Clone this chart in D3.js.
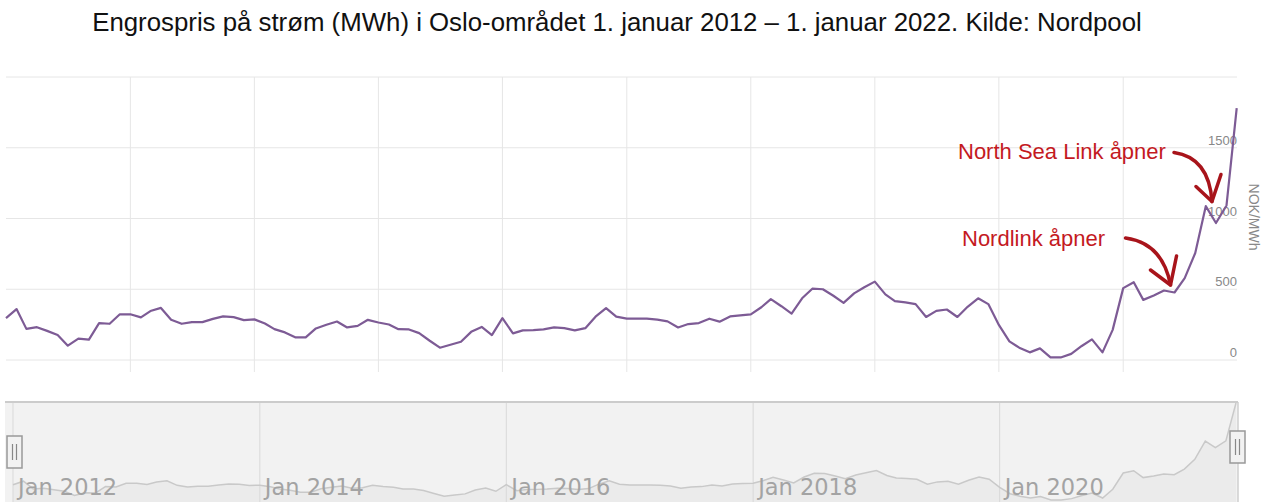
<!DOCTYPE html>
<html><head><meta charset="utf-8">
<script src="https://cdn.jsdelivr.net/npm/d3@7"></script>
<style>html,body{margin:0;padding:0;background:#fff;} svg{display:block;}</style>
</head><body><svg id="c" width="1267" height="502"></svg>
<script>
// ---- data ----
const title = "Engrospris på strøm (MWh) i Oslo-området 1. januar 2012 – 1. januar 2022. Kilde: Nordpool";
const years = [2012,2013,2014,2015,2016,2017,2018,2019,2020,2021];
const prices = [
  296,360,220,232,206,177,101,151,144,261,256,323,
  323,301,346,368,284,256,268,268,291,308,303,282,
  287,258,218,195,160,160,223,249,272,230,241,284,
  265,251,218,216,190,136,87,108,129,199,234,176,
  296,188,209,211,216,230,225,209,225,306,367,306,
  292,292,292,285,273,230,254,261,292,271,308,316,
  323,373,430,380,328,436,504,500,454,404,471,514,
  554,464,416,407,395,304,347,357,304,376,436,395,
  248,132,87,54,82,18,18,43,99,146,54,213,
  508,550,425,456,491,477,579,756,1087,968,1092,1780
];
const yGridTicks = [0,500,1000,1500,2000];
const yLabelTicks = [0,500,1000,1500];
const yAxisTitle = "NOK/MWh";
const navLabelYears = [2012,2014,2016,2018,2020];
const annotations = [
  {text:"North Sea Link åpner", year:2021, month:9, value:1120},
  {text:"Nordlink åpner", year:2021, month:5, value:530}
];

// ---- build ----
const data = [];
years.forEach((yr, yi) => { for (let m = 0; m < 12; m++) data.push({date: new Date(yr, m, 1), value: prices[yi*12+m]}); });

const svg = d3.select("#c");

// main scales
const x = d3.scaleTime().domain([data[0].date, data[data.length-1].date]).range([6, 1236.7]);
const y = d3.scaleLinear().domain([0, 2000]).range([360, 77]);

// title
svg.append("text").attr("x", 617).attr("y", 31).attr("text-anchor", "middle")
  .style("font-family", "'Liberation Sans', Arial, Helvetica, sans-serif").style("font-size", "25.8px").attr("fill", "#111")
  .text(title);

// horizontal gridlines
svg.append("g").selectAll("line").data(yGridTicks).join("line")
  .attr("x1", 6).attr("x2", 1237).attr("y1", d => y(d)).attr("y2", d => y(d))
  .attr("stroke", "#e6e6e6").attr("stroke-width", 1);

// vertical gridlines (yearly) with ticks below
const yearTicks = d3.timeYear.range(new Date(2013,0,1), new Date(2021,1,1));
svg.append("g").selectAll("line").data(yearTicks).join("line")
  .attr("x1", d => x(d)).attr("x2", d => x(d)).attr("y1", 77).attr("y2", 372)
  .attr("stroke", "#e6e6e6").attr("stroke-width", 1);

// y labels (right, inside)
svg.append("g").selectAll("text").data(yLabelTicks).join("text")
  .attr("x", 1237).attr("y", d => y(d) - 3).attr("text-anchor", "end")
  .style("font-family", "'Liberation Sans', Arial, sans-serif").style("font-size", "13px").attr("fill", "#888")
  .text(d => d);

svg.append("text").attr("transform", "translate(1249,217) rotate(90)").attr("text-anchor", "middle")
  .style("font-family", "'Liberation Sans', Arial, sans-serif").style("font-size", "14px").attr("fill", "#888")
  .text(yAxisTitle);

// main line
const line = d3.line().x(d => x(d.date)).y(d => y(d.value));
svg.append("path").datum(data).attr("d", line).attr("fill", "none")
  .attr("stroke", "#7d5b95").attr("stroke-width", 2.2).attr("stroke-linejoin", "round");

// annotations
const arrowShapes = [
  {start:[-38,-49], ctrl:[-3,-44], barbL:[-16,-15], barbR:[9,-27], tx:958, ty:159},
  {start:[-45,-47], ctrl:[-8,-42], barbL:[-20,-15], barbR:[6,-29], tx:962, ty:246}
];
annotations.forEach((a, i) => {
  const s = arrowShapes[i];
  const tipX = x(new Date(a.year, a.month, 1)) - 4, tipY = y(a.value);
  const g = svg.append("g");
  const p = d3.path();
  p.moveTo(tipX + s.start[0], tipY + s.start[1]);
  p.quadraticCurveTo(tipX + s.ctrl[0], tipY + s.ctrl[1], tipX, tipY);
  g.append("path").attr("d", p.toString()).attr("fill", "none").attr("stroke", "#a8141b")
    .attr("stroke-width", 3.5).attr("stroke-linecap", "round");
  const h = d3.path();
  h.moveTo(tipX + s.barbL[0], tipY + s.barbL[1]); h.lineTo(tipX, tipY); h.lineTo(tipX + s.barbR[0], tipY + s.barbR[1]);
  g.append("path").attr("d", h.toString()).attr("fill", "none").attr("stroke", "#a8141b")
    .attr("stroke-width", 3.5).attr("stroke-linecap", "round").attr("stroke-linejoin", "round");
  svg.append("text").attr("x", s.tx).attr("y", s.ty)
    .style("font-family", "'Liberation Sans', Arial, sans-serif").style("font-size", "22px").attr("fill", "#c41a1f")
    .text(a.text);
});

// ---- navigator ----
const nx = d3.scaleTime().domain([data[0].date, data[data.length-1].date]).range([13, 1236]);
const ny = d3.scaleLinear().domain(d3.extent(data, d => d.value)).range([500, 403]);
const nav = svg.append("g");
nav.append("rect").attr("x", 5).attr("y", 402).attr("width", 1233).attr("height", 100).attr("fill", "#f2f2f2");
nav.append("path").datum(data).attr("d", d3.area().x(d => nx(d.date)).y0(502).y1(d => ny(d.value)))
  .attr("fill", "#ebebeb");
const navGrid = navLabelYears.map(yr => new Date(yr, 0, 1));
nav.selectAll("line.g").data(navGrid).join("line").attr("class", "g")
  .attr("x1", d => nx(d)).attr("x2", d => nx(d)).attr("y1", 402).attr("y2", 502)
  .attr("stroke", "#d9d9d9").attr("stroke-width", 1);
nav.append("line").attr("x1", 1238).attr("x2", 1238).attr("y1", 402).attr("y2", 502).attr("stroke", "#cfcfcf").attr("stroke-width", 1.5);
nav.append("path").datum(data).attr("d", d3.line().x(d => nx(d.date)).y(d => ny(d.value)))
  .attr("fill", "none").attr("stroke", "#c9c9c9").attr("stroke-width", 1.5);
nav.append("line").attr("x1", 5).attr("x2", 1238).attr("y1", 402).attr("y2", 402).attr("stroke", "#cccccc").attr("stroke-width", 2);
nav.selectAll("text").data(navGrid).join("text")
  .attr("x", d => nx(d) + 5).attr("y", 495)
  .style("font-family", "'DejaVu Sans', sans-serif").style("font-size", "22.5px").attr("fill", "#a3a3a3")
  .text((d, i) => "Jan " + navLabelYears[i]);

// handles
[[7, 436], [1230, 431]].forEach(([hx, hy]) => {
  const hg = nav.append("g");
  hg.append("rect").attr("x", hx).attr("y", hy).attr("width", 15).attr("height", 32)
    .attr("fill", "#f2f2f2").attr("stroke", "#999").attr("stroke-width", 1.5);
  [hx + 5.5, hx + 9.5].forEach(lx => hg.append("line").attr("x1", lx).attr("x2", lx).attr("y1", hy + 8).attr("y2", hy + 24)
    .attr("stroke", "#888").attr("stroke-width", 1.2));
});
</script></body></html>
